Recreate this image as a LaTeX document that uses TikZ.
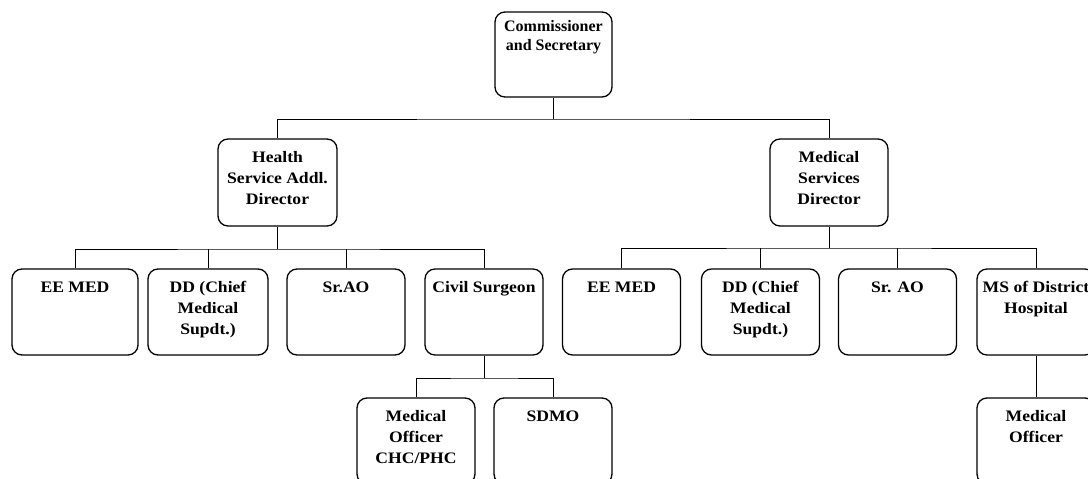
\documentclass[tikz,border=0pt]{standalone}
\usepackage{fontspec}
\setmainfont{Liberation Serif}
\newfontfamily\orgwide[FakeStretch=1.1]{Liberation Serif}
\newcommand\orgtext[2]{\parbox[c][#1][t]{112pt}{\centering\orgwide\bfseries\fontsize{16}{21}\selectfont\rule{0pt}{23pt}#2}}
\newcommand\toptext[2]{\parbox[c][#1][t]{112pt}{\centering\bfseries\fontsize{16}{19}\selectfont\rule{0pt}{19pt}#2}}
\tikzset{
  orgbox/.style={draw, rounded corners=10pt, line width=1.3pt, inner sep=0pt, minimum width=#1},
  orgbox/.default=118pt,
  link/.style={line width=0.9pt}
}
\begin{document}
\begin{tikzpicture}[x=1pt,y=-1pt]
\useasboundingbox (0,0) rectangle (1088,479);
\clip (0,0) rectangle (1088,479);
% top
\node[orgbox=117pt, minimum height=85pt] (comm) at (553.5,54.5) {\toptext{85pt}{Commissioner\\and Secretary}};
% level 1
\node[orgbox=119pt, minimum height=87pt] (health) at (277.5,182.5) {\orgtext{87pt}{Health\\Service Addl.\\Director}};
\node[orgbox, minimum height=87pt] (msd) at (829,182.5) {\orgtext{87pt}{Medical\\Services\\Director}};
% level 2 left
\node[orgbox=126pt, minimum height=86pt] (ee1) at (75,312) {\orgtext{86pt}{EE MED}};
\node[orgbox=120pt, minimum height=86pt] (dd1) at (208,312) {\orgtext{86pt}{DD (Chief\\Medical\\Supdt.)}};
\node[orgbox, minimum height=86pt] (sr1) at (346,312) {\orgtext{86pt}{Sr.AO}};
\node[orgbox, minimum height=86pt] (civ) at (484,312) {\orgtext{86pt}{Civil Surgeon}};
% level 2 right
\node[orgbox, minimum height=86pt] (ee2) at (621.5,312) {\orgtext{86pt}{EE MED}};
\node[orgbox, minimum height=86pt] (dd2) at (760.5,312) {\orgtext{86pt}{DD (Chief\\Medical\\Supdt.)}};
\node[orgbox, minimum height=86pt] (sr2) at (897.5,312) {\orgtext{86pt}{Sr. AO}};
\node[orgbox, minimum height=86pt] (ms) at (1036,312) {\orgtext{86pt}{MS of District\\Hospital}};
% level 3
\node[orgbox, minimum height=86pt] (mo1) at (416,441) {\orgtext{86pt}{Medical\\Officer\\CHC/PHC}};
\node[orgbox, minimum height=86pt] (sdmo) at (553,441) {\orgtext{86pt}{SDMO}};
\node[orgbox, minimum height=86pt] (mo2) at (1036,441) {\orgtext{86pt}{Medical\\Officer}};
% junctions
\coordinate (j0) at (553.5,119);
\coordinate (jl) at (277.5,249);
\coordinate (jr) at (829,248);
\coordinate (jc) at (484,378);
% connectors
\draw[link] (comm.south) -- (j0);
\draw[link] (health.north) |- (j0) -| (msd.north);
\draw[link] (health.south) -- (jl);
\draw[link] (ee1.north) |- (jl) -| (civ.north);
\draw[link] (dd1.north) -- (dd1.north |- jl);
\draw[link] (sr1.north) -- (sr1.north |- jl);
\draw[link] (msd.south) -- (jr);
\draw[link] (ee2.north) |- (jr) -| (ms.north);
\draw[link] (dd2.north) -- (dd2.north |- jr);
\draw[link] (sr2.north) -- (sr2.north |- jr);
\draw[link] (civ.south) -- (jc);
\draw[link] (mo1.north) |- (jc) -| (sdmo.north);
\draw[link] (ms.south) -- (mo2.north);
\end{tikzpicture}
\end{document}
